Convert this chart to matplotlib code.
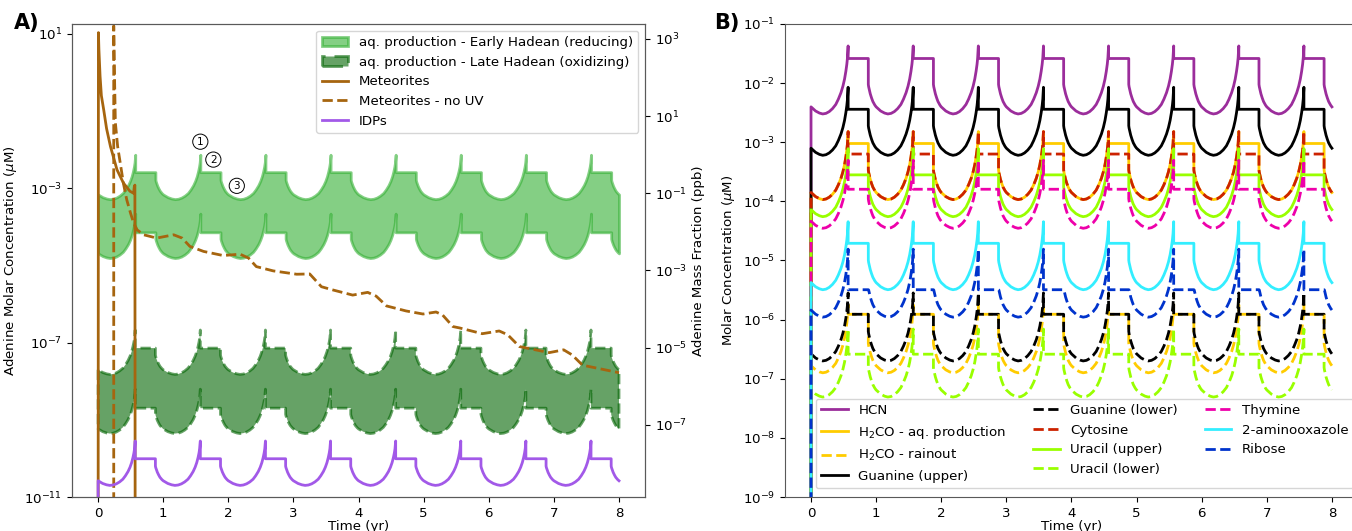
import numpy as np
import matplotlib
matplotlib.use("Agg")
import matplotlib.pyplot as plt
from matplotlib.ticker import NullLocator

plt.rcParams['font.size'] = 9.6
plt.rcParams['axes.edgecolor'] = '0.35'

# wet-dry cycle timing (yr)
dry_start = 0.57   # evaporation spike, dry plateau begins
dry_end = 0.88     # pond refills
n_years = 8

# shape of one wet phase: time after refill (yr) and decades above the minimum
u_offset = [0.0, 0.005, 0.015, 0.03, 0.05, 0.07, 0.10, 0.12, 0.14, 0.19, 0.25, 0.30,
            0.35, 0.40, 0.45, 0.50, 0.54, 0.58, 0.61, 0.635, 0.655, 0.67, 0.68, 0.69]
u_height = [0.50, 0.46, 0.41, 0.34, 0.27, 0.21, 0.15, 0.12, 0.10, 0.05, 0.015, 0.0,
            0.01, 0.04, 0.09, 0.16, 0.25, 0.36, 0.47, 0.59, 0.72, 0.84, 0.95, 1.15]

# panel A: adenine (uM), [wet minimum, dry plateau]
early_upper = [5.2e-4, 2.6e-3]
early_lower = [1.55e-5, 7.2e-5]
late_upper = [1.5e-8, 7.2e-8]
late_lower = [4.4e-10, 2.0e-9]
idps = [2.0e-11, 9.8e-11]

# meteorite delivery curves (uM)
met_t = [0.0, 0.005, 0.012, 0.03, 0.05, 0.086, 0.13, 0.19, 0.29, 0.39, 0.49,
         0.545, 0.556, 0.565, 0.57]
met_c = [1e-14, 10.7, 4.0, 0.8, 0.25, 0.107, 0.035, 0.012, 3.0e-3, 1.35e-3, 8.3e-4,
         7.4e-4, 1.1e-3, 1.2e-3, 1e-14]
nouv_t = [0.24, 0.24, 0.25, 0.265, 0.30, 0.34, 0.39, 0.44, 0.50, 0.545, 0.60, 0.70,
          0.90, 1.16, 1.29, 1.41, 1.62, 1.92, 2.18, 2.31, 2.43, 2.69, 3.05, 3.25,
          3.43, 3.61, 3.91, 4.14, 4.27, 4.43, 4.73, 4.99, 5.19, 5.29, 5.45, 5.55,
          5.90, 6.16, 6.29, 6.47, 6.93, 7.15, 7.28, 7.44, 7.97, 8.0]
nouv_c = [1e-14, 16, 1.2, 0.05, 0.012, 4.5e-3, 1.3e-3, 5.0e-4, 2.2e-4, 1.26e-4, 8.3e-5,
          6.2e-5, 5.1e-5, 6.2e-5, 5.1e-5, 3.1e-5, 2.3e-5, 1.8e-5, 1.95e-5, 1.55e-5,
          9.3e-6, 7.2e-6, 5.9e-6, 6.0e-6, 2.8e-6, 2.3e-6, 1.7e-6, 2.0e-6, 1.6e-6,
          8.9e-7, 6.6e-7, 5.5e-7, 6.2e-7, 5.2e-7, 2.6e-7, 2.4e-7, 1.7e-7, 2.0e-7,
          1.6e-7, 7.9e-8, 5.5e-8, 6.5e-8, 4.8e-8, 2.6e-8, 1.7e-8, 1.66e-8]

# panel B: species (uM), [wet minimum, dry plateau]
species = ['HCN', 'H$_2$CO - aq. production', 'H$_2$CO - rainout', 'Guanine (upper)',
           'Guanine (lower)', 'Cytosine', 'Uracil (upper)', 'Uracil (lower)',
           'Thymine', '2-aminooxazole', 'Ribose']
species_min = [3.0e-3, 1.07e-4, 1.26e-7, 6.0e-4, 2.0e-7, 1.07e-4, 5.5e-5, 4.9e-8,
               3.5e-5, 3.2e-6, 1.1e-6]
species_plateau = [2.6e-2, 9.5e-4, 1.23e-6, 3.6e-3, 1.23e-6, 6.3e-4, 2.8e-4, 2.6e-7,
                   1.6e-4, 1.95e-5, 3.2e-6]
species_color = ['#9b2d9b', '#ffcc00', '#ffcc00', 'black', 'black', '#cc2200',
                 '#99ff00', '#99ff00', '#ee00aa', '#33eeff', '#0033cc']
species_ls = ['-', '-', '--', '-', '--', '--', '-', '--', '--', '-', '--']


def pond_curve(levels, from_zero=False):
    cmin, cplat = levels
    t, c = [], []
    if from_zero:
        t.append(0.0)
        c.append(1e-14)
    for n in range(n_years + 1):
        start = n - (1 - dry_end)
        for off, h in zip(u_offset, u_height):
            tt = round(start + off, 4)
            if 0 <= tt <= n_years:
                v = cmin * 10 ** h
                if off < 0.3:
                    v = min(v, cplat)
                t.append(tt)
                c.append(v)
        if n + dry_start <= n_years:
            t += [n + dry_start, n + dry_end]
            c += [cplat, cplat]
    return np.array(t), np.array(c)


fig = plt.figure(figsize=(13.52, 5.31), dpi=100)
axA = fig.add_axes([0.0533, 0.064, 0.4238, 0.891])
axB = fig.add_axes([0.5806, 0.064, 0.4238, 0.891])

# ---- panel A
t, hi = pond_curve(early_upper)
t, lo = pond_curve(early_lower)
axA.fill_between(t, lo, hi, facecolor='#33b033', edgecolor='#33b033', alpha=0.6, lw=2,
                 label='aq. production - Early Hadean (reducing)')
t, hi = pond_curve(late_upper)
t, lo = pond_curve(late_lower)
axA.fill_between(t, lo, hi, facecolor='#006400', edgecolor='#006400', alpha=0.6, lw=2,
                 linestyle='--', label='aq. production - Late Hadean (oxidizing)')
axA.plot(met_t, met_c, color='#a6650f', lw=2, label='Meteorites')
axA.plot(nouv_t, nouv_c, color='#a6650f', lw=2, ls='--', label='Meteorites - no UV')
t, c = pond_curve(idps, from_zero=True)
axA.plot(t, c, color='#a259e8', lw=2, label='IDPs')

for num, x, y in [('1', 1.57, 0.016), ('2', 1.77, 5.5e-3), ('3', 2.13, 1.15e-3)]:
    axA.text(x, y, num, fontsize=7.5, ha='center', va='center',
             bbox=dict(boxstyle='circle,pad=0.25', fc='white', ec='black', lw=0.7))

axA.set_yscale('log')
axA.set_xlim(-0.4, 8.4)
axA.set_ylim(1e-11, 18)
axA.set_yticks([1e-11, 1e-7, 1e-3, 1e1])
axA.yaxis.set_minor_locator(NullLocator())
axA.set_xticks(range(0, 9))
axA.set_xlabel('Time (yr)', labelpad=0)
axA.set_ylabel(r'Adenine Molar Concentration ($\mu$M)')
axA.legend(loc='upper right')

ax2 = axA.twinx()
ax2.set_yscale('log')
ax2.set_ylim(1e-11 * 135.13, 18 * 135.13)
ax2.set_yticks([1e-7, 1e-5, 1e-3, 1e-1, 1e1, 1e3])
ax2.yaxis.set_minor_locator(NullLocator())
ax2.set_ylabel('Adenine Mass Fraction (ppb)')

# ---- panel B
for name, mn, pl, col, ls in zip(species, species_min, species_plateau,
                                 species_color, species_ls):
    t, c = pond_curve([mn, pl], from_zero=True)
    axB.plot(t, c, color=col, ls=ls, lw=2, label=name)

axB.set_yscale('log')
axB.set_xlim(-0.4, 8.4)
axB.set_ylim(1e-9, 1e-1)
axB.set_yticks([10.0 ** k for k in range(-9, 0)])
axB.yaxis.set_minor_locator(NullLocator())
axB.set_xticks(range(0, 9))
axB.set_xlabel('Time (yr)', labelpad=0)
axB.set_ylabel(r'Molar Concentration ($\mu$M)')
axB.legend(ncol=3, loc='lower left', bbox_to_anchor=(0.042, 0.004))

fig.text(0.010, 0.975, 'A)', fontsize=15, fontweight='bold', va='top')
fig.text(0.528, 0.975, 'B)', fontsize=15, fontweight='bold', va='top')

fig.savefig('out.png', dpi=100)
